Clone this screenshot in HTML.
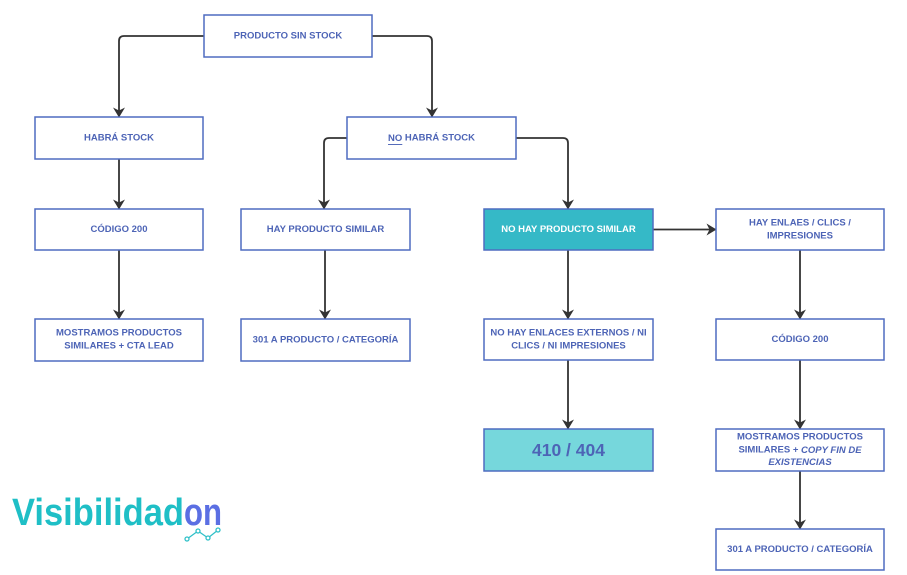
<!DOCTYPE html>
<html><head><meta charset="utf-8"><style>
html,body{margin:0;padding:0;background:#fff;}
svg{display:block;}
text{font-family:"Liberation Sans",Arial,sans-serif;font-weight:bold;}
</style></head><body>
<svg width="907" height="575" viewBox="0 0 907 575" xmlns="http://www.w3.org/2000/svg">
<defs>
<marker id="ah" viewBox="0 0 10 12" refX="9.5" refY="6" markerWidth="10" markerHeight="12" markerUnits="userSpaceOnUse" orient="auto">
<path d="M10,6 L0,0 L3,6 L0,12 Z" fill="#333"/>
</marker>
</defs>
<g fill="none" stroke="#333" stroke-width="1.8" marker-end="url(#ah)">
<path d="M204,36 H124 Q119,36 119,41 V117"/>
<path d="M372,36 H427 Q432,36 432,41 V117"/>
<path d="M119,159 V209"/>
<path d="M119,250 V319"/>
<path d="M347,138 H329 Q324,138 324,143 V209"/>
<path d="M516,138 H563 Q568,138 568,143 V209"/>
<path d="M325,250 V319"/>
<path d="M568,250 V319"/>
<path d="M568,360 V429"/>
<path d="M653,229.5 H716"/>
<path d="M800,250 V319"/>
<path d="M800,360 V429"/>
<path d="M800,471 V529"/>
</g>
<g stroke="#4f6cc0" stroke-width="1.5" fill="#fff">
<rect x="204" y="15" width="168" height="42"/>
<rect x="35" y="117" width="168" height="42"/>
<rect x="347" y="117" width="169" height="42"/>
<rect x="35" y="209" width="168" height="41"/>
<rect x="241" y="209" width="169" height="41"/>
<rect x="484" y="209" width="169" height="41" fill="#35b9c7"/>
<rect x="716" y="209" width="168" height="41"/>
<rect x="35" y="319" width="168" height="42"/>
<rect x="241" y="319" width="169" height="42"/>
<rect x="484" y="319" width="169" height="41"/>
<rect x="716" y="319" width="168" height="41"/>
<rect x="484" y="429" width="169" height="42" fill="#76d7dc"/>
<rect x="716" y="429" width="168" height="42"/>
<rect x="716" y="529" width="168" height="41"/>
</g>
<g fill="#4d64b6" font-size="9.5" text-anchor="middle" dominant-baseline="central">
<text x="288" y="36">PRODUCTO SIN STOCK</text>
<text x="119" y="138">HABRÁ STOCK</text>
<text x="431.5" y="138"><tspan text-decoration="underline">NO</tspan> HABRÁ STOCK</text>
<text x="119" y="229.5">CÓDIGO 200</text>
<text x="325.5" y="229.5">HAY PRODUCTO SIMILAR</text>
<text x="568.5" y="229.5" fill="#ffffff">NO HAY PRODUCTO SIMILAR</text>
<text x="800" y="223">HAY ENLAES / CLICS /</text>
<text x="800" y="236">IMPRESIONES</text>
<text x="119" y="333">MOSTRAMOS PRODUCTOS</text>
<text x="119" y="346">SIMILARES + CTA LEAD</text>
<text x="325.5" y="340">301 A PRODUCTO / CATEGORÍA</text>
<text x="568.5" y="333">NO HAY ENLACES EXTERNOS / NI</text>
<text x="568.5" y="346">CLICS / NI IMPRESIONES</text>
<text x="800" y="339.5">CÓDIGO 200</text>
<text x="568.5" y="450" font-size="17.5">410 / 404</text>
<text x="800" y="437">MOSTRAMOS PRODUCTOS</text>
<text x="800" y="450">SIMILARES + <tspan font-style="italic">COPY FIN DE</tspan></text>
<text x="800" y="462.5" font-style="italic">EXISTENCIAS</text>
<text x="800" y="549.5">301 A PRODUCTO / CATEGORÍA</text>
</g>
<text x="12" y="525" font-size="38" textLength="172" lengthAdjust="spacingAndGlyphs" fill="#1fbfc6">Visibilidad</text>
<text x="184" y="525" font-size="38" textLength="38" lengthAdjust="spacingAndGlyphs" fill="#5b6fe3">on</text>
<g stroke="#2fc0c8" stroke-width="1.3" fill="#fff">
<polyline points="187,539 198,531 208,538 218,530" fill="none"/>
<circle cx="187" cy="539" r="2"/>
<circle cx="198" cy="531" r="2"/>
<circle cx="208" cy="538" r="2"/>
<circle cx="218" cy="530" r="2"/>
</g>
</svg>
</body></html>
